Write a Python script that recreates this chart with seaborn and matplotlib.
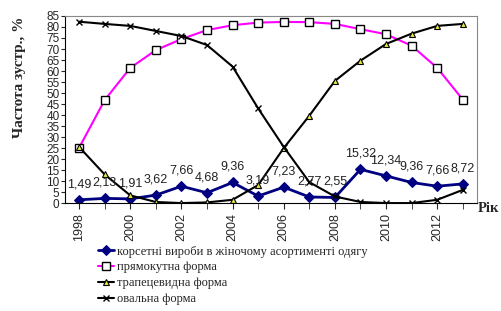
import matplotlib
matplotlib.use("Agg")
import matplotlib.pyplot as plt
import seaborn as sns
import pandas as pd

years = list(range(1998, 2014))
corset = [1.49, 2.13, 1.91, 3.62, 7.66, 4.68, 9.36, 3.19, 7.23, 2.77, 2.55, 15.32, 12.34, 9.36, 7.66, 8.72]
rect = [25.1, 46.8, 61.4, 69.5, 74.5, 78.6, 80.8, 82.0, 82.3, 82.2, 81.4, 79.0, 76.7, 71.5, 61.4, 47.0]
trap = [25.5, 13.0, 3.5, 0.5, 0.0, 0.3, 1.5, 8.2, 25.0, 39.7, 55.5, 64.7, 72.3, 77.0, 80.5, 81.4]
oval = [82.4, 81.4, 80.5, 78.2, 75.9, 71.8, 62.0, 43.0, 25.5, 9.5, 3.0, 0.5, 0.0, 0.0, 1.5, 6.0]
labels = ["1,49", "2,13", "1,91", "3,62", "7,66", "4,68", "9,36", "3,19", "7,23", "2,77",
          "2,55", "15,32", "12,34", "9,36", "7,66", "8,72"]
names = ["корсетні вироби в жіночому асортименті одягу", "прямокутна форма",
         "трапецевидна форма", "овальна форма"]

sns.set_style("white")
plt.rcParams['font.family'] = ['Liberation Sans', 'DejaVu Sans']

df = pd.DataFrame({"year": years, "corset": corset, "rect": rect, "trap": trap, "oval": oval})

fig = plt.figure(figsize=(5.02, 3.11), dpi=100)
ax = fig.add_axes([0.1295, 0.347, 0.8205, 0.6016])

sns.lineplot(data=df, x="year", y="corset", ax=ax, color="#000080", lw=2, marker="D",
             markersize=5.5, markerfacecolor="#000080", markeredgecolor="#000080", label=names[0])
sns.lineplot(data=df, x="year", y="rect", ax=ax, color="#FF00FF", lw=1.5, marker="s",
             markersize=6, markerfacecolor="white", markeredgecolor="black", markeredgewidth=1, label=names[1])
sns.lineplot(data=df, x="year", y="trap", ax=ax, color="black", lw=1.5, marker="^",
             markersize=5, markerfacecolor="#E8E840", markeredgecolor="black", markeredgewidth=0.8, label=names[2])
sns.lineplot(data=df, x="year", y="oval", ax=ax, color="black", lw=1.5, marker="x",
             markersize=5, markeredgecolor="black", markeredgewidth=1, label=names[3])

for x, y, t in zip(years, corset, labels):
    ax.annotate(t, (x, y), xytext=(0, 7), textcoords="offset points", ha="center", va="bottom",
                fontsize=9, color="#222222")

ax.set_xlim(1997.45, 2013.55)
ax.set_ylim(0, 85)
ax.set_yticks(range(0, 86, 5))
ax.set_xticks(range(1998, 2014, 2))
ax.set_xticks(range(1998, 2014), minor=True)
ax.tick_params(axis="y", labelsize=8.5, length=3, pad=1, direction="out", left=True)
ax.tick_params(axis="x", which="both", labelsize=9, length=4, direction="out", bottom=True, rotation=90)
for s in ax.spines.values():
    s.set_color("#888888")
    s.set_linewidth(0.8)
ax.spines["bottom"].set_color("black")
ax.spines["left"].set_color("black")
ax.set_xlabel("")
ax.set_ylabel("Частота зустр., %", fontsize=11, fontweight="bold", family=["Liberation Serif"])
ax.yaxis.set_label_coords(-0.095, 0.67)

fig.text(0.951, 0.33, "Рік", fontsize=10.5, fontweight="bold", family=["Liberation Serif"], ha="left", va="center")

ax.legend(loc="upper left", bbox_to_anchor=(0.195, 0.21), bbox_transform=fig.transFigure,
          frameon=False, prop={"family": "Liberation Serif", "size": 9}, handlelength=1.3,
          handletextpad=0.2, labelspacing=0.3, borderpad=0, borderaxespad=0)

fig.savefig("out.png", dpi=100)
